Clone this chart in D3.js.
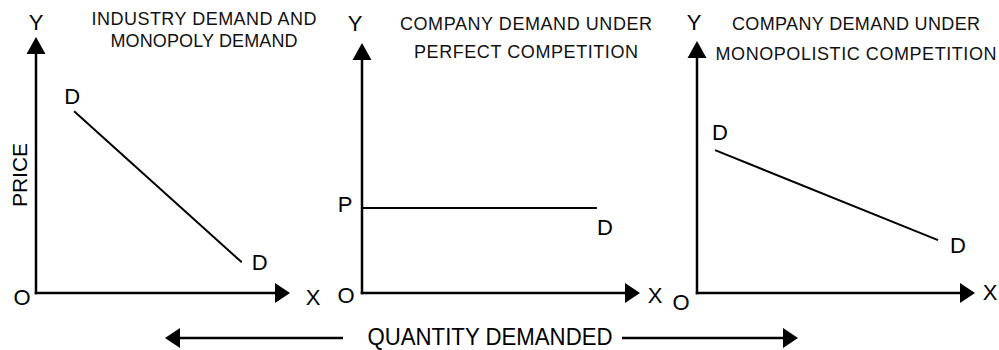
<!DOCTYPE html>
<html>
<head>
<meta charset="utf-8">
<script src="https://cdn.jsdelivr.net/npm/d3@7"></script>
<style>
  html, body { margin: 0; padding: 0; background: #fff; }
  svg { display: block; font-family: "Liberation Sans", Arial, Helvetica, sans-serif; }
</style>
</head>
<body>
<svg id="chart" width="999" height="350"></svg>
<script>
// ---- data ----
const panelTitles = [
  ["INDUSTRY DEMAND AND", "MONOPOLY DEMAND"],
  ["COMPANY DEMAND UNDER", "PERFECT COMPETITION"],
  ["COMPANY DEMAND UNDER", "MONOPOLISTIC COMPETITION"]
];
// demand curve endpoints in (quantity, price) units, axis domain 0..10
const demandStartQ = [1.5, 0.0, 0.65];
const demandStartP = [7.1, 3.4, 5.67];
const demandEndQ   = [8.1, 8.45, 8.67];
const demandEndP   = [1.2, 3.4, 2.1];
const startLabels  = ["D", "P", "D"];
const endLabels    = ["D", "D", "D"];
const axisLabels   = { y: "Y", x: "X", origin: "O" };
const yAxisTitle   = "PRICE";
const xAxisTitle   = "QUANTITY DEMANDED";
const axisDomain   = [0, 10];

// ---- layout ----
const layout = [
  { x0: 36,  x1: 290, y0: 293, y1: 37, titleX: 204, titleY: [25, 47], titleW: [225, 187],
    yLab: [36, 30], xLab: [313, 305], oLab: [22, 305],
    sOff: [-2, -7], eOff: [18, 8] },
  { x0: 362, x1: 640, y0: 293, y1: 43, titleX: 526, titleY: [30, 58], titleW: [252, 224],
    yLab: [355, 31], xLab: [655, 303], oLab: [346, 303],
    sOff: [-17, 4], eOff: [8, 27] },
  { x0: 697, x1: 975, y0: 293, y1: 41, titleX: 856, titleY: [30, 60], titleW: [248, 281],
    yLab: [694, 30], xLab: [990, 300], oLab: [681, 310],
    sOff: [5, -10], eOff: [20, 13] }
];

const svg = d3.select("#chart");
const ink = "#000";

function yArrow(g, x, tip) {
  g.append("path").attr("d", `M${x},${tip} L${x - 9.5},${tip + 17} L${x + 9.5},${tip + 17} Z`).attr("fill", ink);
}
function xArrow(g, tip, y, dir) {
  const b = tip - dir * 15;
  g.append("path").attr("d", `M${tip},${y} L${b},${y - 10} L${b},${y + 10} Z`).attr("fill", ink);
}

layout.forEach((L, i) => {
  const g = svg.append("g");
  const xs = d3.scaleLinear().domain(axisDomain).range([L.x0, L.x1]);
  const ys = d3.scaleLinear().domain(axisDomain).range([L.y0, L.y1]);

  // axes
  g.append("line").attr("x1", xs(0)).attr("y1", ys(0)).attr("x2", xs(0)).attr("y2", ys(10) + 10)
    .attr("stroke", ink).attr("stroke-width", 2.5).attr("stroke-linecap", "square");
  g.append("line").attr("x1", xs(0)).attr("y1", ys(0)).attr("x2", xs(10) - 10).attr("y2", ys(0))
    .attr("stroke", ink).attr("stroke-width", 2.5).attr("stroke-linecap", "square");
  yArrow(g, xs(0), ys(10));
  xArrow(g, xs(10), ys(0), 1);

  // demand line
  const sx = xs(demandStartQ[i]), sy = ys(demandStartP[i]);
  const ex = xs(demandEndQ[i]), ey = ys(demandEndP[i]);
  g.append("line").attr("x1", sx).attr("y1", sy).attr("x2", ex).attr("y2", ey)
    .attr("stroke", ink).attr("stroke-width", 2);

  // labels
  const lab = (x, y, t, size) => g.append("text").attr("x", x).attr("y", y)
    .attr("text-anchor", "middle").attr("font-size", size).attr("fill", ink).text(t);
  lab(L.yLab[0], L.yLab[1], axisLabels.y, 22);
  lab(L.xLab[0], L.xLab[1], axisLabels.x, 22);
  lab(L.oLab[0], L.oLab[1], axisLabels.origin, 22);
  lab(sx + L.sOff[0], sy + L.sOff[1], startLabels[i], 22);
  lab(ex + L.eOff[0], ey + L.eOff[1], endLabels[i], 22);

  panelTitles[i].forEach((t, k) => lab(L.titleX, L.titleY[k], t, 18)
    .attr("textLength", L.titleW[k]).attr("lengthAdjust", "spacing").attr("fill", "#111"));
});

// PRICE rotated label
svg.append("text").attr("transform", "translate(27,175) rotate(-90)")
  .attr("text-anchor", "middle").attr("font-size", 21).attr("fill", ink).text(yAxisTitle);

// bottom quantity arrows
const bg = svg.append("g");
bg.append("line").attr("x1", 176).attr("y1", 338).attr("x2", 343).attr("y2", 338)
  .attr("stroke", ink).attr("stroke-width", 2.5);
xArrow(bg, 165, 338, -1);
bg.append("line").attr("x1", 622).attr("y1", 338).attr("x2", 787).attr("y2", 338)
  .attr("stroke", ink).attr("stroke-width", 2.5);
xArrow(bg, 798, 338, 1);
bg.append("text").attr("x", 490).attr("y", 345).attr("text-anchor", "middle")
  .attr("font-size", 23).attr("textLength", 245).attr("lengthAdjust", "spacingAndGlyphs")
  .attr("fill", ink).text(xAxisTitle);
</script>
</body>
</html>
